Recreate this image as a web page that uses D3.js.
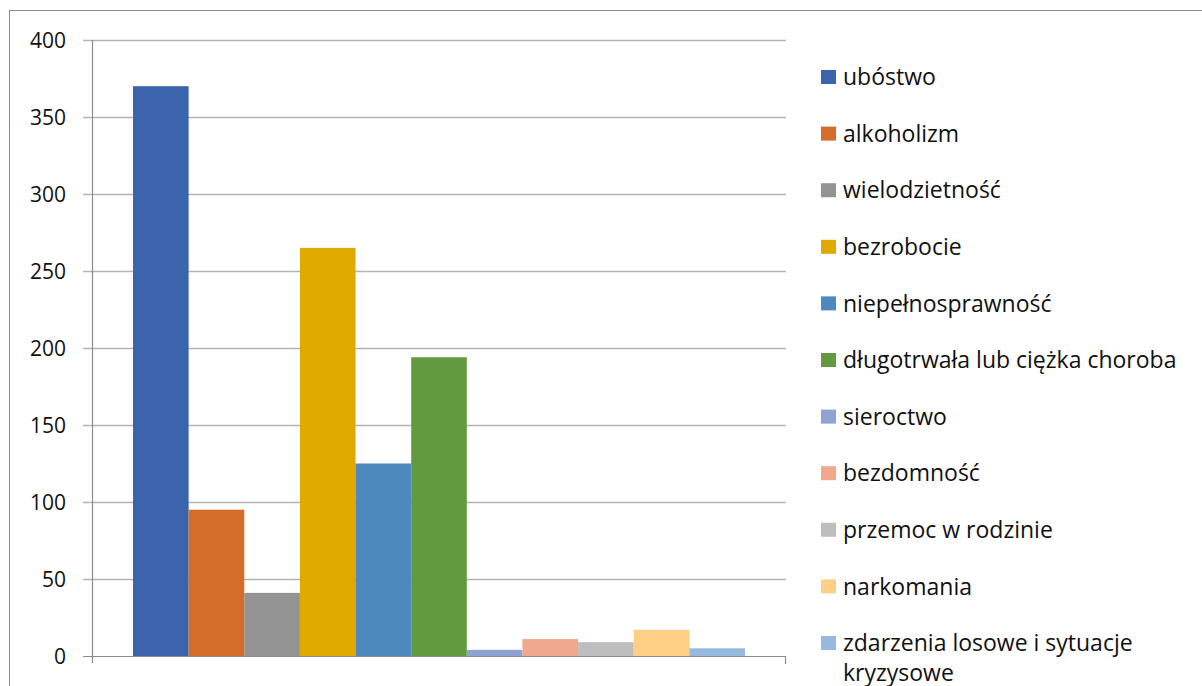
<!DOCTYPE html>
<html>
<head>
<meta charset="utf-8">
<script src="https://cdn.jsdelivr.net/npm/d3@7"></script>
<style>
  html, body { margin: 0; padding: 0; background: #fff; }
  svg { display: block; font-family: "Open Sans", Lato, sans-serif; }
</style>
</head>
<body>
<svg id="chart" width="1202" height="686"></svg>
<script>
// ─── Data ─────────────────────────────────────────────────────────────────────
const seriesNames = [
  'ubóstwo', 'alkoholizm', 'wielodzietność', 'bezrobocie', 'niepełnosprawność',
  'długotrwała lub ciężka choroba', 'sieroctwo', 'bezdomność', 'przemoc w rodzinie',
  'narkomania', 'zdarzenia losowe i sytuacje kryzysowe'
];
const seriesValues = [370, 95, 41, 265, 125, 194, 4, 11, 9, 17, 5];
const seriesColors = [
  '#3c64ad', '#d46d2a', '#939393', '#e1aa00', '#4d89bd', '#629a3f',
  '#8ea3d2', '#f0a98c', '#bebebe', '#fecf84', '#98b9de'
];
const yTicks = [0, 50, 100, 150, 200, 250, 300, 350, 400];

// ─── Layout ───────────────────────────────────────────────────────────────────
const plot = { left: 92, right: 786, top: 40, bottom: 656 };
const svg = d3.select('#chart');

// outer chart border (runs past the right/bottom edges)
svg.append('rect')
  .attr('x', 9.5).attr('y', 10.5)
  .attr('width', 1210).attr('height', 700)
  .attr('fill', 'none').attr('stroke', '#8c8c8c').attr('stroke-width', 1);

const y = d3.scaleLinear().domain([0, 400]).range([plot.bottom, plot.top]);
const x = d3.scaleBand()
  .domain(seriesNames)
  .range([133, 745]);

// gridlines
svg.append('g')
  .selectAll('line')
  .data(yTicks.filter(t => t > 0))
  .join('line')
  .attr('x1', plot.left - 9).attr('x2', plot.right)
  .attr('y1', d => Math.round(y(d)) + 0.5)
  .attr('y2', d => Math.round(y(d)) + 0.5)
  .attr('stroke', '#b3b3b3').attr('stroke-width', 1.3);

// bars
svg.append('g')
  .selectAll('rect')
  .data(seriesValues)
  .join('rect')
  .attr('x', (d, i) => x(seriesNames[i]))
  .attr('width', x.bandwidth())
  .attr('y', d => y(d))
  .attr('height', d => y(0) - y(d))
  .attr('fill', (d, i) => seriesColors[i]);

// axes lines
svg.append('line')
  .attr('x1', plot.left + 0.5).attr('x2', plot.left + 0.5)
  .attr('y1', plot.top).attr('y2', plot.bottom + 7)
  .attr('stroke', '#8c8c8c').attr('stroke-width', 1.2);
svg.append('line')
  .attr('x1', plot.left - 9).attr('x2', plot.right)
  .attr('y1', plot.bottom + 0.5).attr('y2', plot.bottom + 0.5)
  .attr('stroke', '#8c8c8c').attr('stroke-width', 1.2);
svg.append('line')
  .attr('x1', plot.right - 0.5).attr('x2', plot.right - 0.5)
  .attr('y1', plot.bottom).attr('y2', plot.bottom + 8)
  .attr('stroke', '#8c8c8c').attr('stroke-width', 1.2);

// y tick labels
svg.append('g')
  .selectAll('text')
  .data(yTicks)
  .join('text')
  .attr('x', 66)
  .attr('y', d => y(d))
  .attr('dy', '0.36em')
  .attr('text-anchor', 'end')
  .attr('font-size', 21)
  .attr('fill', '#111')
  .text(d => d);

// ─── Legend ───────────────────────────────────────────────────────────────────
const legend = svg.append('g');
const rowY = i => 77 + i * 56.6;
const item = legend.selectAll('g')
  .data(seriesNames)
  .join('g')
  .attr('transform', (d, i) => `translate(821,${rowY(i)})`);

item.append('rect')
  .attr('x', 0).attr('y', -7)
  .attr('width', 15).attr('height', 14)
  .attr('fill', (d, i) => seriesColors[i]);

item.append('text')
  .attr('x', 22)
  .attr('dy', '0.36em')
  .attr('font-size', 23)
  .attr('fill', '#111')
  .each(function (d) {
    const t = d3.select(this);
    if (d.startsWith('zdarzenia')) {
      t.append('tspan').attr('x', 22).text('zdarzenia losowe i sytuacje');
      t.append('tspan').attr('x', 22).attr('dy', 30).text('kryzysowe');
    } else {
      t.text(d);
    }
  });
</script>
</body>
</html>
